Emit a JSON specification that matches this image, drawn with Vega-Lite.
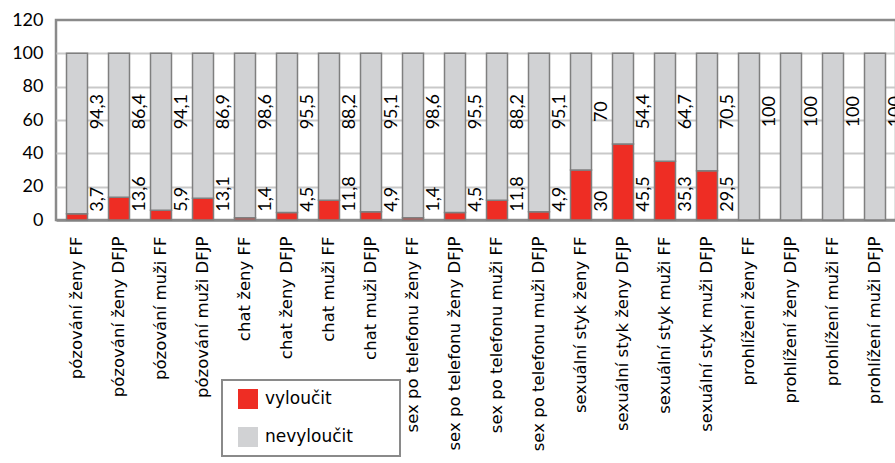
{
  "$schema": "https://vega.github.io/schema/vega-lite/v6.json",
  "width": 840,
  "height": 200,
  "autosize": {"type": "none"},
  "padding": {"left": 56, "top": 20, "right": 0, "bottom": 243},
  "background": "white",
  "config": {
    "font": "Lato",
    "locale": {"number": {"decimal": ",", "thousands": " ", "grouping": [3], "currency": ["", " Kč"]}},
    "view": {"stroke": "#8a8a8a", "strokeWidth": 2.5},
    "legend": {"strokeWidth": 2},
    "axisY": {
      "title": null,
      "values": [0, 0.2, 0.4, 0.6, 0.8, 1, 1.2],
      "labelFontSize": 18,
      "labelColor": "#000000",
      "labelPadding": 13,
      "labelOverlap": false,
      "ticks": false,
      "domain": false,
      "grid": true,
      "gridWidth": 2
    }
  },
  "data": {
    "values": [
      {"cat": "pózování ženy FF", "series": "vyloučit", "value": 3.7},
      {"cat": "pózování ženy FF", "series": "nevyloučit", "value": 94.3},
      {"cat": "pózování ženy DFJP", "series": "vyloučit", "value": 13.6},
      {"cat": "pózování ženy DFJP", "series": "nevyloučit", "value": 86.4},
      {"cat": "pózování muži FF", "series": "vyloučit", "value": 5.9},
      {"cat": "pózování muži FF", "series": "nevyloučit", "value": 94.1},
      {"cat": "pózování muži DFJP", "series": "vyloučit", "value": 13.1},
      {"cat": "pózování muži DFJP", "series": "nevyloučit", "value": 86.9},
      {"cat": "chat ženy FF", "series": "vyloučit", "value": 1.4},
      {"cat": "chat ženy FF", "series": "nevyloučit", "value": 98.6},
      {"cat": "chat ženy DFJP", "series": "vyloučit", "value": 4.5},
      {"cat": "chat ženy DFJP", "series": "nevyloučit", "value": 95.5},
      {"cat": "chat muži FF", "series": "vyloučit", "value": 11.8},
      {"cat": "chat muži FF", "series": "nevyloučit", "value": 88.2},
      {"cat": "chat muži DFJP", "series": "vyloučit", "value": 4.9},
      {"cat": "chat muži DFJP", "series": "nevyloučit", "value": 95.1},
      {"cat": "sex po telefonu ženy FF", "series": "vyloučit", "value": 1.4},
      {"cat": "sex po telefonu ženy FF", "series": "nevyloučit", "value": 98.6},
      {"cat": "sex po telefonu ženy DFJP", "series": "vyloučit", "value": 4.5},
      {"cat": "sex po telefonu ženy DFJP", "series": "nevyloučit", "value": 95.5},
      {"cat": "sex po telefonu muži FF", "series": "vyloučit", "value": 11.8},
      {"cat": "sex po telefonu muži FF", "series": "nevyloučit", "value": 88.2},
      {"cat": "sex po telefonu muži DFJP", "series": "vyloučit", "value": 4.9},
      {"cat": "sex po telefonu muži DFJP", "series": "nevyloučit", "value": 95.1},
      {"cat": "sexuální styk ženy FF", "series": "vyloučit", "value": 30},
      {"cat": "sexuální styk ženy FF", "series": "nevyloučit", "value": 70},
      {"cat": "sexuální styk ženy DFJP", "series": "vyloučit", "value": 45.5},
      {"cat": "sexuální styk ženy DFJP", "series": "nevyloučit", "value": 54.4},
      {"cat": "sexuální styk muži FF", "series": "vyloučit", "value": 35.3},
      {"cat": "sexuální styk muži FF", "series": "nevyloučit", "value": 64.7},
      {"cat": "sexuální styk muži DFJP", "series": "vyloučit", "value": 29.5},
      {"cat": "sexuální styk muži DFJP", "series": "nevyloučit", "value": 70.5},
      {"cat": "prohlížení ženy FF", "series": "vyloučit", "value": 0},
      {"cat": "prohlížení ženy FF", "series": "nevyloučit", "value": 100},
      {"cat": "prohlížení ženy DFJP", "series": "vyloučit", "value": 0},
      {"cat": "prohlížení ženy DFJP", "series": "nevyloučit", "value": 100},
      {"cat": "prohlížení muži FF", "series": "vyloučit", "value": 0},
      {"cat": "prohlížení muži FF", "series": "nevyloučit", "value": 100},
      {"cat": "prohlížení muži DFJP", "series": "vyloučit", "value": 0},
      {"cat": "prohlížení muži DFJP", "series": "nevyloučit", "value": 100}
    ]
  },
  "encoding": {
    "x": {
      "field": "cat",
      "type": "nominal",
      "sort": null,
      "scale": {"paddingInner": 0.5, "paddingOuter": 0.25},
      "axis": {
        "title": null,
        "labelAngle": -90,
        "labelAlign": "right",
        "labelBaseline": "middle",
        "labelPadding": 16,
        "labelFont": "DejaVu Sans",
        "labelFontSize": 16.5,
        "labelColor": "#000000",
        "labelLimit": 400,
        "labelOverlap": false,
        "ticks": false,
        "grid": false,
        "domain": true,
        "domainColor": "#8a8a8a",
        "domainWidth": 2.5
      }
    }
  },
  "layer": [
    {
      "mark": {"type": "bar", "stroke": "#7f7f7f", "strokeWidth": 1.5},
      "encoding": {
        "y": {
          "field": "value",
          "type": "quantitative",
          "stack": "normalize",
          "scale": {"domain": [0, 1.2], "nice": false},
          "axis": {
            "values": [0, 0.2, 0.4, 0.6, 0.8, 1, 1.2],
            "labelExpr": "toString(round(datum.value * 100))",
            "gridColor": {"condition": {"test": "datum.value > 1.1 || datum.value < 0.01", "value": "transparent"}, "value": "#c9c9c9"}
          }
        },
        "color": {
          "field": "series",
          "type": "nominal",
          "scale": {"domain": ["vyloučit", "nevyloučit"], "range": ["#ee2d24", "#d1d2d4"]},
          "legend": {
            "title": null,
            "orient": "none",
            "legendX": 166,
            "legendY": 360,
            "padding": 9,
            "symbolOffset": 7,
            "symbolType": "square",
            "symbolSize": 400,
            "symbolStrokeWidth": 0,
            "labelFont": "DejaVu Sans",
            "labelFontSize": 17,
            "labelColor": "#000000",
            "labelOffset": 7,
            "rowPadding": 18,
            "labelExpr": "datum.label + '\u2800\u2800\u2800'",
            "strokeColor": "#8a8a8a",
            "fillColor": "white"
          }
        },
        "order": {"field": "series", "sort": "descending"}
      }
    },
    {
      "transform": [{"filter": "datum.series === 'vyloučit' && datum.value > 0"}],
      "mark": {"type": "text", "angle": -90, "align": "left", "baseline": "middle", "dy": 21, "fontSize": 18, "color": "#000000"},
      "encoding": {
        "y": {
          "datum": 0.05,
          "axis": {
            "values": [0, 0.2, 0.4, 0.6, 0.8, 1, 1.2],
            "labelExpr": "toString(round(datum.value * 100))",
            "gridColor": {"condition": {"test": "datum.value > 1.1 || datum.value < 0.01", "value": "transparent"}, "value": "#c9c9c9"}
          }
        },
        "text": {"field": "value", "type": "quantitative", "format": ".1~f"}
      }
    },
    {
      "transform": [{"filter": "datum.series === 'nevyloučit'"}],
      "mark": {"type": "text", "angle": -90, "align": "center", "baseline": "middle", "dy": 21, "fontSize": 18, "color": "#000000"},
      "encoding": {
        "y": {
          "datum": 0.65,
          "axis": {
            "values": [0, 0.2, 0.4, 0.6, 0.8, 1, 1.2],
            "labelExpr": "toString(round(datum.value * 100))",
            "gridColor": {"condition": {"test": "datum.value > 1.1 || datum.value < 0.01", "value": "transparent"}, "value": "#c9c9c9"}
          }
        },
        "text": {"field": "value", "type": "quantitative", "format": ".1~f"}
      }
    }
  ]
}
